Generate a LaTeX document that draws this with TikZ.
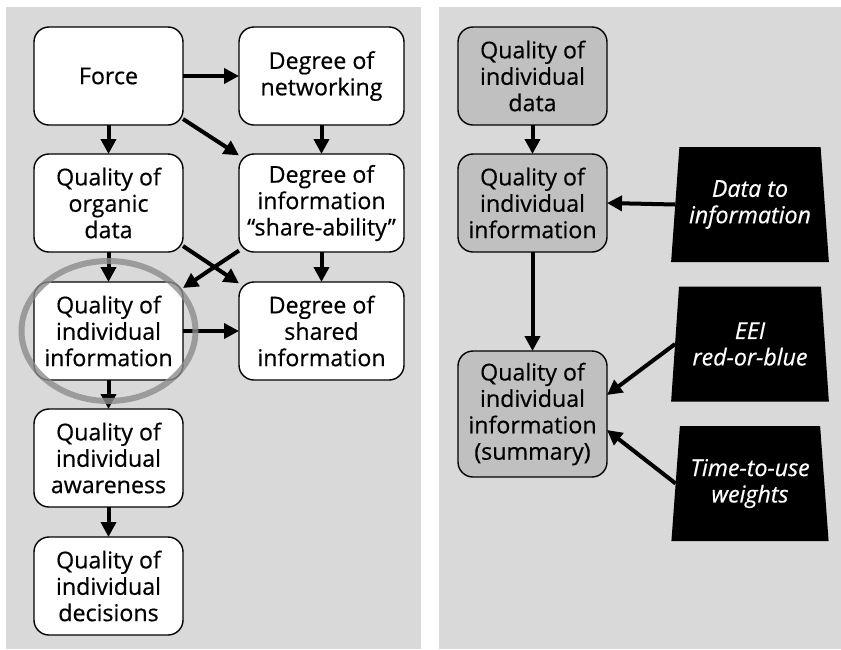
\documentclass[tikz,border=0pt]{standalone}
\usepackage{fontspec}
\setmainfont{Open Sans}[RawFeature={embolden=0.5}]
\usepackage{tikz}
\usetikzlibrary{arrows.meta,shapes.geometric,calc}
\definecolor{panelgray}{RGB}{217,217,217}
\definecolor{boxgray}{RGB}{192,192,192}
\definecolor{ringgray}{RGB}{140,140,140}

\begin{document}
\begin{tikzpicture}[x=0.5pt, y=-0.5pt, line join=round,
    >={Triangle[length=7.5pt,width=7.5pt]},
    every node/.style={font=\fontsize{11.6}{13.2}\selectfont, align=center, outer sep=0pt},
    factor/.style={draw, line width=0.7pt, rounded corners=7.5pt, fill=white,
      minimum width=74.5pt, minimum height=49pt, inner sep=1pt},
    wide/.style={factor, minimum width=82.5pt},
    measure/.style={factor, fill=boxgray},
    model/.style={trapezium, trapezium left angle=82, trapezium right angle=82,
      trapezium stretches=true, fill=black, text=white, minimum width=79pt,
      minimum height=57.5pt, inner sep=1pt,
      font=\fontsize{11.6}{13.2}\selectfont\itshape},
    link/.style={->, line width=2pt}]
      \def\xa{108.5}
      \def\xb{321.5}
      \def\xc{532.5}
      \def\xd{750}
      \useasboundingbox (0,0) rectangle (841,649);
      \fill[panelgray] (6,7) rectangle (421,649);
      \fill[panelgray] (439,7) rectangle (841,649);
      % left panel
      \node[factor] (force) at (\xa,76) {Force};
      \node[wide] (network) at (\xb,76) {Degree of\\networking};
      \node[factor] (organic) at (\xa,203) {Quality of\\organic\\data};
      \node[wide] (share) at (\xb,203) {Degree of\\information\\“share-ability”};
      \node[factor] (indiv) at (\xa,331) {Quality of\\individual\\information};
      \node[wide] (shared) at (\xb,331) {Degree of\\shared\\information};
      \node[factor] (aware) at (\xa,458) {Quality of\\individual\\awareness};
      \node[factor] (decide) at (\xa,586) {Quality of\\individual\\decisions};
      \draw[link] (force) -- (network);
      \draw[link] (force) -- (organic);
      \draw[link] (force.330) -- (share.150);
      \draw[link] (network) -- (share);
      \draw[link] (organic) -- (indiv);
      \draw[link] (organic.330) -- (shared.150);
      \draw[link] (share.210) -- (indiv.30);
      \draw[link] (share) -- (shared);
      \draw[link] (indiv) -- (shared);
      \draw[link] (indiv) -- (aware);
      \draw[link] (aware) -- (decide);
      \draw[ringgray, line width=3pt, opacity=0.8] (indiv) ellipse [x radius=87, y radius=70];
      % right panel
      \node[measure] (idata) at (\xc,76) {Quality of\\individual\\data};
      \node[measure] (iinfo) at (\xc,203) {Quality of\\individual\\information};
      \node[measure, minimum height=63pt] (isum) at (\xc,414) {Quality of\\individual\\information\\(summary)};
      \node[model] (convert) at (\xd,204.5) {Data to\\information};
      \node[model] (eei) at (\xd,344) {EEI\\red-or-blue};
      \node[model] (weights) at (\xd,483.5) {Time-to-use\\weights};
      \draw[link] (idata) -- (iinfo);
      \draw[link] (iinfo) -- (isum);
      \draw[link] (convert.west) -- (iinfo.east);
      \draw[link] (eei.west) -- ($(isum.east)+(0,-19)$);
      \draw[link] (weights.west) -- ($(isum.east)+(0,16)$);
    \end{tikzpicture}
\end{document}
